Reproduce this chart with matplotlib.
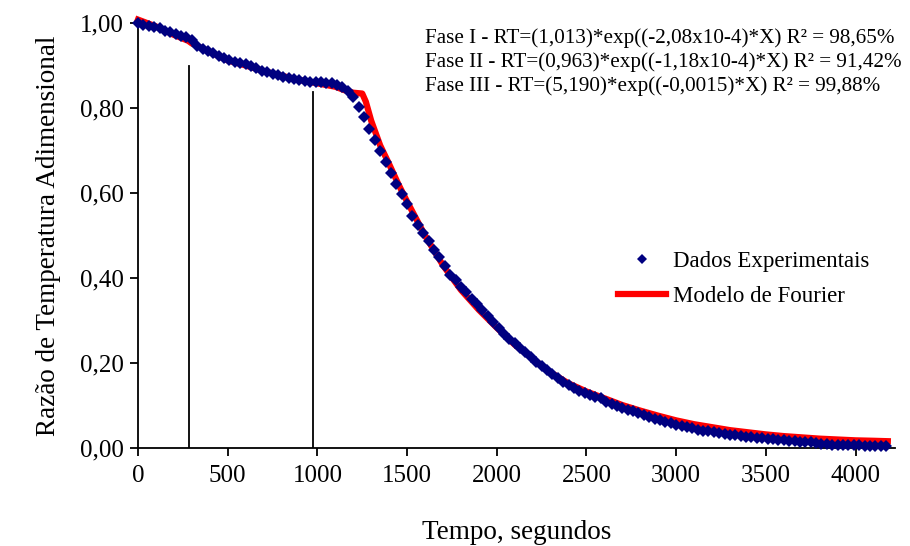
import matplotlib
matplotlib.use('Agg')
import matplotlib.pyplot as plt

plt.rcParams['font.family'] = ['Liberation Serif', 'DejaVu Serif']

# experimental data, one reading every 30 s
tempo = list(range(0, 4200, 30))
rt_exp = [1.000, 0.996, 0.993, 0.991, 0.988, 0.982, 0.978, 0.974, 0.970, 0.967,
          0.960, 0.946, 0.939, 0.934, 0.929, 0.922, 0.917, 0.913, 0.909, 0.905,
          0.903, 0.900, 0.894, 0.888, 0.884, 0.880, 0.877, 0.873, 0.870, 0.868,
          0.866, 0.864, 0.862, 0.862, 0.861, 0.860, 0.858, 0.855, 0.849, 0.840,
          0.825, 0.803, 0.778, 0.750, 0.725, 0.700, 0.672, 0.646, 0.622, 0.598,
          0.575, 0.547, 0.524, 0.507, 0.487, 0.467, 0.450, 0.428, 0.408, 0.395,
          0.380, 0.366, 0.350, 0.338, 0.325, 0.310, 0.296, 0.282, 0.268, 0.257,
          0.248, 0.236, 0.225, 0.214, 0.203, 0.193, 0.183, 0.174, 0.165, 0.156,
          0.148, 0.141, 0.135, 0.129, 0.125, 0.121, 0.117, 0.108, 0.103, 0.098,
          0.094, 0.090, 0.087, 0.082, 0.078, 0.074, 0.069, 0.066, 0.062, 0.058,
          0.055, 0.052, 0.049, 0.046, 0.043, 0.041, 0.039, 0.037, 0.035, 0.033,
          0.031, 0.030, 0.028, 0.027, 0.025, 0.024, 0.023, 0.022, 0.021, 0.019,
          0.018, 0.017, 0.016, 0.015, 0.014, 0.013, 0.011, 0.010, 0.009, 0.008,
          0.008, 0.007, 0.007, 0.006, 0.006, 0.005, 0.005, 0.004, 0.004, 0.004]

# Fourier model curve
tempo_mod = [0, 100, 200, 280, 300, 400, 500, 600, 700, 800, 900, 1000, 1100,
             1150, 1200, 1250, 1270, 1300, 1350, 1400, 1450, 1500, 1600, 1700,
             1800, 1900, 2000, 2100, 2200, 2300, 2400, 2500, 2600, 2700, 2800,
             2900, 3000, 3100, 3200, 3300, 3400, 3500, 3600, 3700, 3800, 3900,
             4000, 4100, 4180]
rt_mod = [1.008, 0.992, 0.972, 0.958, 0.952, 0.932, 0.912, 0.900, 0.887, 0.876,
          0.866, 0.858, 0.850, 0.842, 0.836, 0.834, 0.815, 0.770, 0.712, 0.668,
          0.622, 0.580, 0.500, 0.430, 0.372, 0.325, 0.283, 0.243, 0.210, 0.178,
          0.152, 0.133, 0.117, 0.101, 0.088, 0.076, 0.065, 0.056, 0.049, 0.042,
          0.037, 0.032, 0.028, 0.025, 0.022, 0.020, 0.018, 0.017, 0.016]

# phase boundaries
fase_t = [285, 975]
fase_topo = [0.90, 0.837]

equacoes = ['Fase I - RT=(1,013)*exp((-2,08x10-4)*X) R² = 98,65%',
            'Fase II - RT=(0,963)*exp((-1,18x10-4)*X) R² = 91,42%',
            'Fase III - RT=(5,190)*exp((-0,0015)*X) R² = 99,88%']

fig = plt.figure(figsize=(9.1, 5.46), dpi=100)
ax = fig.add_axes([138/910, 98/546, 757/910, 425/546])

ax.plot(tempo_mod, rt_mod, color='#ff0000', lw=4.5, label='Modelo de Fourier',
        zorder=2, clip_on=False)
ax.plot(tempo, rt_exp, 'D', color='#000080', ms=6, mew=0,
        label='Dados Experimentais', zorder=3, clip_on=False)

for t, top in zip(fase_t, fase_topo):
    ax.plot([t, t], [0, top], color='black', lw=1.3, zorder=1)

ax.set_xlim(0, 4220)
ax.set_ylim(0, 1.0)
ax.set_xticks(range(0, 4001, 500))
ax.set_yticks([0, 0.2, 0.4, 0.6, 0.8, 1.0])
ax.set_yticklabels(['0,00', '0,20', '0,40', '0,60', '0,80', '1,00'])
ax.tick_params(direction='out', length=6, width=1.3, labelsize=18)
ax.tick_params(axis='x', pad=6)
ax.tick_params(axis='y', pad=4)
for s in ['top', 'right']:
    ax.spines[s].set_visible(False)
for s in ['left', 'bottom']:
    ax.spines[s].set_linewidth(1.3)

ax.set_xlabel('Tempo, segundos', fontsize=19.5, labelpad=24)
ax.set_ylabel('Razão de Temperatura Adimensional', fontsize=19.5, labelpad=14)

for i, txt in enumerate(equacoes):
    fig.text(425/910, 1 - (38 + 24*i)/546, txt, fontsize=15.2, va='center', ha='left')

h, l = ax.get_legend_handles_labels()
ax.legend(h[::-1], l[::-1], loc='center left', bbox_to_anchor=(618/910, 1 - 279/546),
          bbox_transform=fig.transFigure, frameon=False, fontsize=16.5,
          numpoints=1, handlelength=2.1, handletextpad=0.3, borderpad=0,
          borderaxespad=0, labelspacing=0.6, markerscale=0.85)

fig.savefig('out.png', dpi=100)
